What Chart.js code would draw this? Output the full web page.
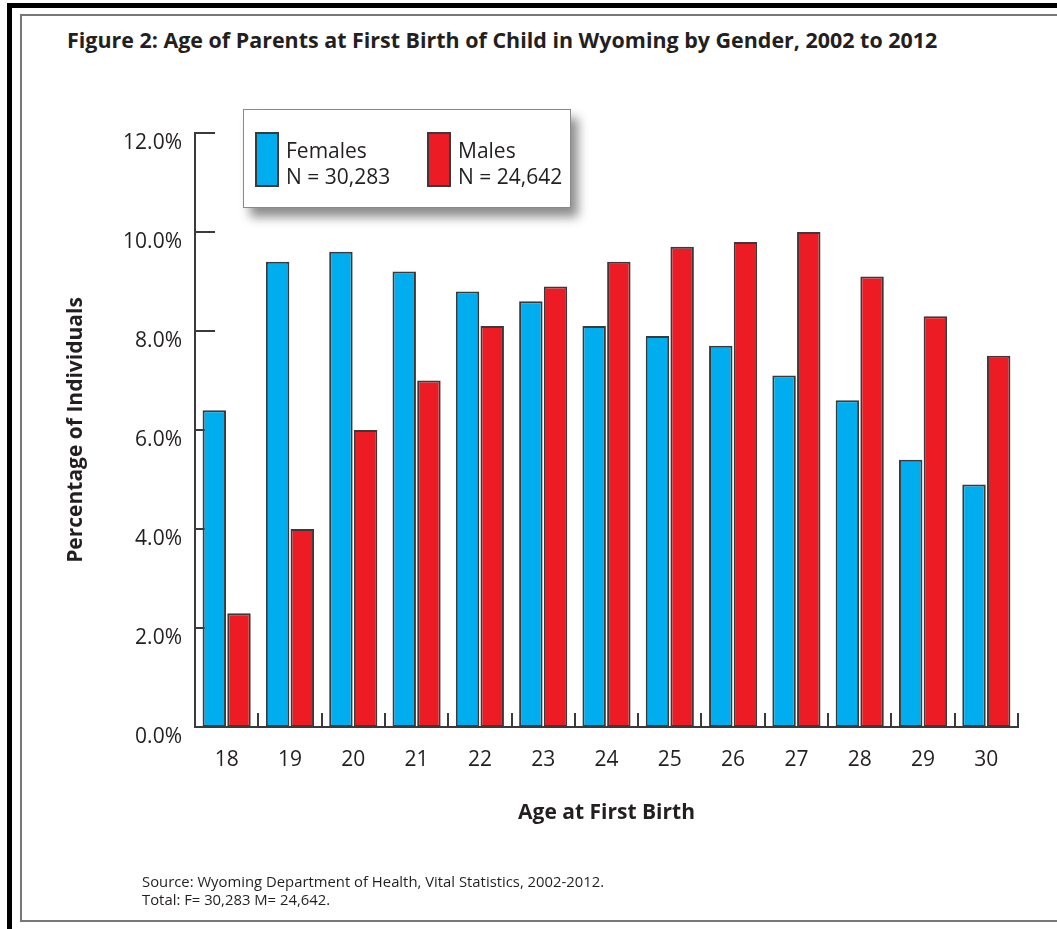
<!DOCTYPE html>
<html>
<head>
<meta charset="utf-8">
<script src="https://cdn.jsdelivr.net/npm/chart.js@4.4.1/dist/chart.umd.min.js"></script>
<style>
	body { margin: 0; width: 1057px; height: 929px; background: #fff; position: relative; overflow: hidden; font-family: 'Open Sans', sans-serif; color: #231f20; }
	.frame-top { position: absolute; left: 7px; top: 3px; right: 0; height: 5px; background: #000; }
	.frame-left { position: absolute; left: 7px; top: 3px; width: 5px; bottom: 0; background: #000; }
	.frame-inner { position: absolute; left: 20px; top: 14px; right: -10px; bottom: 7px; border: 2px solid #777; }
	#title { position: absolute; left: 67px; top: 30px; font-size: 21px; line-height: 21px; font-weight: bold; white-space: nowrap; transform-origin: left top; }
	#source { position: absolute; left: 142px; top: 872px; font-size: 15px; line-height: 18px; white-space: nowrap; transform-origin: left top; }
	#chart { position: absolute; left: 0; top: 0; }
	#legend { position: absolute; left: 243px; top: 109px; width: 326px; height: 97px; background: #fff; border: 1px solid #8a8a8a; box-shadow: 7px 9px 10px rgba(0,0,0,0.45); }
	.item { position: absolute; top: 0; }
	.swatch { position: absolute; top: 22px; width: 20px; height: 51px; border: 2px solid #3a3a3a; }
	.label { position: absolute; left: 31px; top: 27px; font-size: 21px; line-height: 26px; white-space: nowrap; }
</style>
</head>
<body>
<div class="frame-top"></div>
<div class="frame-left"></div>
<div class="frame-inner"></div>
<div id="title">Figure 2: Age of Parents at First Birth of Child in Wyoming by Gender, 2002 to 2012</div>
<canvas id="chart" width="1057" height="929"></canvas>
<div id="legend"></div>
<div id="source">Source: Wyoming Department of Health, Vital Statistics, 2002-2012.<br>Total: F= 30,283 M= 24,642.</div>
<script>
const ages = ['18', '19', '20', '21', '22', '23', '24', '25', '26', '27', '28', '29', '30'];
const femalePct = [6.4, 9.4, 9.6, 9.2, 8.8, 8.6, 8.1, 7.9, 7.7, 7.1, 6.6, 5.4, 4.9];
const malePct = [2.3, 4.0, 6.0, 7.0, 8.1, 8.9, 9.4, 9.7, 9.8, 10.0, 9.1, 8.3, 7.5];
const seriesNames = ['Females', 'Males'];
const seriesCounts = ['N = 30,283', 'N = 24,642'];
const seriesColors = ['#00aeef', '#ed1c24'];
const yMax = 12;
const yStep = 2;

const textColor = '#231f20';
const axisColor = '#3a3a3a';
const fontFamily = "'Open Sans', sans-serif";

// fit a text block to the width it has in the original
function fitWidth(id, width) {
	const el = document.getElementById(id);
	el.style.transform = `scaleX(${width / el.offsetWidth})`;
}
fitWidth('title', 870);
fitWidth('source', 462);

// short tick marks that point into the plot
const innerTicks = {
	id: 'innerTicks',
	beforeDatasetsDraw(chart) {
		const { ctx, chartArea, scales: { x, y } } = chart;
		ctx.save();
		ctx.strokeStyle = axisColor;
		ctx.lineWidth = 2;
		ctx.beginPath();
		y.ticks.forEach((t, i) => {
			const py = Math.round(y.getPixelForTick(i));
			ctx.moveTo(chartArea.left, py);
			ctx.lineTo(chartArea.left + 20, py);
		});
		for (let i = 1; i <= ages.length; i++) {
			const px = Math.round(x.getPixelForValue(i - 0.5));
			ctx.moveTo(px, chartArea.bottom);
			ctx.lineTo(px, chartArea.bottom - 14);
		}
		ctx.stroke();
		ctx.restore();
	}
};

const ctx = document.getElementById('chart').getContext('2d');

const chart = new Chart(ctx, {
	type: 'bar',
	data: {
		labels: ages,
		datasets: [femalePct, malePct].map((values, i) => ({
			label: seriesNames[i],
			data: values,
			backgroundColor: seriesColors[i],
			borderColor: axisColor,
			borderWidth: 2,
			borderSkipped: false,
			categoryPercentage: 0.78,
			barPercentage: 0.95,
		}))
	},
	options: {
		responsive: false,
		animation: false,
		layout: {
			padding: { left: 0, top: 133, right: 39, bottom: 103 }
		},
		plugins: {
			legend: { display: false },
			tooltip: { enabled: false },
		},
		scales: {
			x: {
				grid: { display: false, drawTicks: false },
				border: { display: true, color: axisColor, width: 2 },
				ticks: {
					color: textColor,
					padding: 20,
					font: { family: fontFamily, size: 21 },
				},
				title: {
					display: true,
					text: 'Age at First Birth',
					color: textColor,
					padding: 0,
					font: { family: fontFamily, size: 21, weight: 'bold' },
				},
				afterFit: scale => { scale.height = 99; }
			},
			y: {
				min: 0,
				max: yMax,
				grid: { display: false, drawTicks: false },
				border: { display: true, color: axisColor, width: 2 },
				ticks: {
					stepSize: yStep,
					color: textColor,
					padding: 13,
					labelOffset: 10,
					font: { family: fontFamily, size: 21 },
					callback: value => value.toFixed(1) + '%',
				},
				title: {
					display: true,
					text: 'Percentage of Individuals',
					color: textColor,
					padding: { top: 63, bottom: 0 },
					font: { family: fontFamily, size: 21, weight: 'bold' },
				},
				afterFit: scale => { scale.width = 195; }
			}
		}
	},
	plugins: [innerTicks]
});

// legend box built from the datasets
const legend = document.getElementById('legend');
const itemLeft = [11, 183];
chart.data.datasets.forEach((ds, i) => {
	const item = document.createElement('div');
	item.className = 'item';
	item.style.left = itemLeft[i] + 'px';
	item.innerHTML = `<div class="swatch" style="background:${ds.backgroundColor}"></div>` +
		`<div class="label">${ds.label}<br>${seriesCounts[i]}</div>`;
	legend.appendChild(item);
});
</script>
</body>
</html>
